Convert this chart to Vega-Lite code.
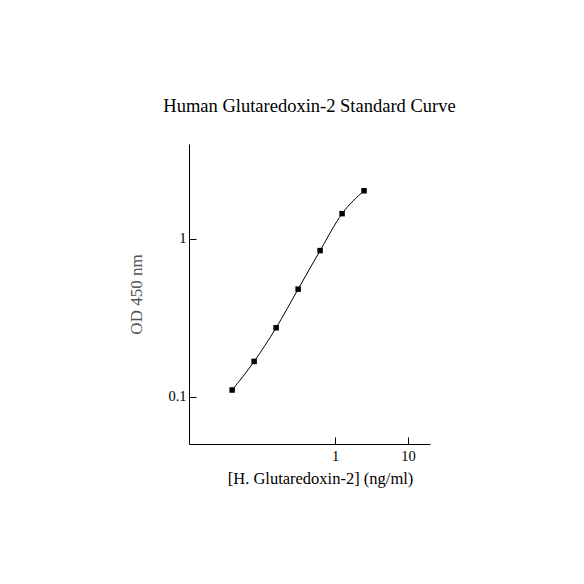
{
  "$schema": "https://vega.github.io/schema/vega-lite/v6.json",
  "autosize": "none",
  "width": 241,
  "height": 300,
  "padding": {"left": 189, "top": 144, "right": 154, "bottom": 140},
  "background": "white",
  "title": {"text": "Human Glutaredoxin-2 Standard Curve", "font": "Liberation Serif", "fontSize": 18.5, "fontWeight": "normal", "color": "black", "offset": 29, "anchor": "middle"},
  "data": {"values": [
    {"conc": 0.039, "od": 0.110},
    {"conc": 0.078, "od": 0.167},
    {"conc": 0.156, "od": 0.273},
    {"conc": 0.3125, "od": 0.480},
    {"conc": 0.625, "od": 0.843},
    {"conc": 1.25, "od": 1.446},
    {"conc": 2.5, "od": 2.02}
  ]},
  "config": {
    "view": {"stroke": null},
    "axis": {"domainColor": "black", "tickColor": "black", "labelColor": "black", "titleColor": "black", "labelFont": "Liberation Serif", "titleFont": "Liberation Serif", "titleFontWeight": "normal", "grid": false, "tickSize": -7, "labelFontSize": 14.5, "titleFontSize": 17}
  },
  "encoding": {
    "x": {"field": "conc", "type": "quantitative", "scale": {"type": "log", "domain": [0.01, 20], "nice": false}, "axis": {"values": [1, 10], "format": "~g", "title": "[H. Glutaredoxin-2] (ng/ml)", "titleFontSize": 16.5, "titleX": 131, "titleAlign": "center", "labelPadding": 12, "titlePadding": 8}},
    "y": {"field": "od", "type": "quantitative", "scale": {"type": "log", "domain": [0.05, 4], "nice": false}, "axis": {"values": [0.1, 1], "format": "~g", "title": "OD 450 nm", "titleColor": "#555555", "labelPadding": 10, "titlePadding": 22}}
  },
  "layer": [
    {"mark": {"type": "line", "interpolate": "monotone", "color": "black", "strokeWidth": 1}},
    {"mark": {"type": "square", "size": 30, "color": "black", "opacity": 1, "filled": true}}
  ]
}
